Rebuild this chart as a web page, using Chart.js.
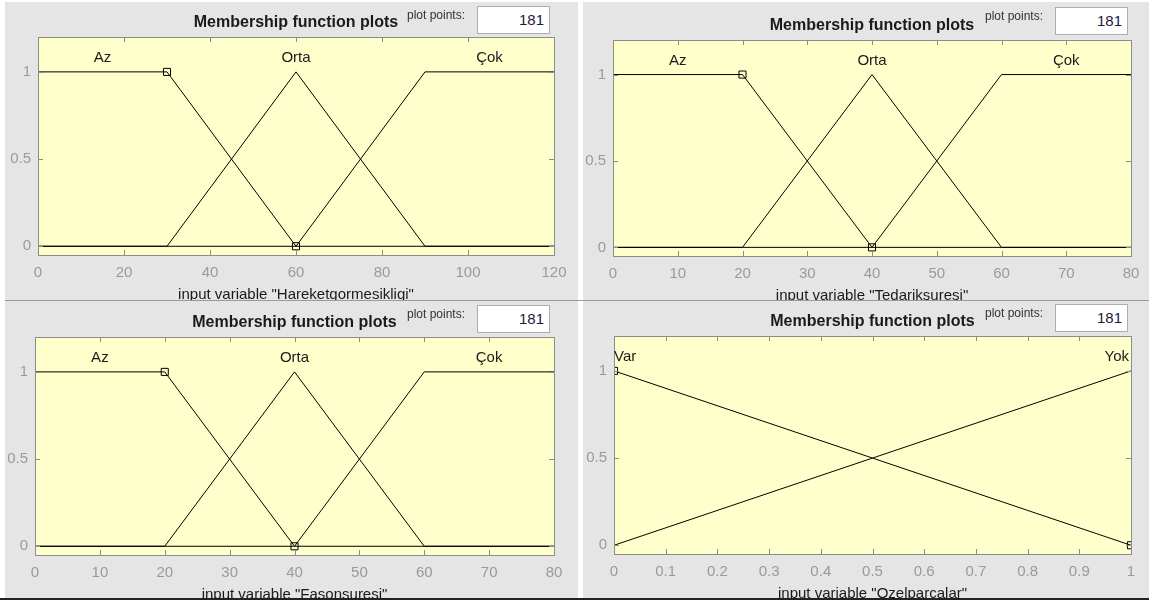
<!DOCTYPE html>
<html>
<head>
<meta charset="utf-8">
<script src="https://cdn.jsdelivr.net/npm/chart.js@4/dist/chart.umd.min.js"></script>
<style>
  body { margin: 0; background: #fff; width: 1149px; height: 600px; position: relative; overflow: hidden; font-family: "Liberation Sans", Arial, sans-serif; }
  .panel { position: absolute; background: #e5e5e5; }
  .panel canvas { position: absolute; left: 0; top: 0; }
  .pp { position: absolute; font-size: 12px; color: #333; text-align: right; width: 90px; }
  .box { position: absolute; background: #fff; border: 1px solid #adadad; box-sizing: border-box; text-align: right; font-size: 15px; color: #1c1c3c; padding-right: 5px; line-height: 26px; }
  .hline { position: absolute; height: 1px; background: #9a9a9a; }
</style>
</head>
<body>

<script>
// membership functions, breakpoints and values
var hareketX = [0, 30, 60, 90, 120];
var hareketAz = [1, 1, 0, 0, 0];
var hareketOrta = [0, 0, 1, 0, 0];
var hareketCok = [0, 0, 0, 1, 1];
var hareketTicks = [0, 20, 40, 60, 80, 100, 120];
var hareketLabelX = [15, 60, 105];
var hareketMarkX = [30, 60];
var hareketMarkY = [1, 0];

var tedarikX = [0, 20, 40, 60, 80];
var tedarikAz = [1, 1, 0, 0, 0];
var tedarikOrta = [0, 0, 1, 0, 0];
var tedarikCok = [0, 0, 0, 1, 1];
var tedarikTicks = [0, 10, 20, 30, 40, 50, 60, 70, 80];
var tedarikLabelX = [10, 40, 70];
var tedarikMarkX = [20, 40];
var tedarikMarkY = [1, 0];

var fasonX = [0, 20, 40, 60, 80];
var fasonAz = [1, 1, 0, 0, 0];
var fasonOrta = [0, 0, 1, 0, 0];
var fasonCok = [0, 0, 0, 1, 1];
var fasonTicks = [0, 10, 20, 30, 40, 50, 60, 70, 80];
var fasonLabelX = [10, 40, 70];
var fasonMarkX = [20, 40];
var fasonMarkY = [1, 0];

var ozelX = [0, 1];
var ozelVar = [1, 0];
var ozelYok = [0, 1];
var ozelTicks = [0, 0.1, 0.2, 0.3, 0.4, 0.5, 0.6, 0.7, 0.8, 0.9, 1];
var ozelLabelX = [0, 1];
var ozelMarkX = [0, 1];
var ozelMarkY = [1, 0];

var mfNames = ['Az', 'Orta', 'Çok'];
var ozelNames = ['Var', 'Yok'];
var yTicks = [0, 0.5, 1];
var plotPoints = '181';
var FONT = '"Liberation Sans", Arial, sans-serif';

function pts(xs, ys) {
  var out = [];
  for (var i = 0; i < xs.length; i++) out.push({ x: xs[i], y: ys[i] });
  return out;
}

function fmt(v) {
  return String(Math.round(v * 10) / 10);
}

// yellow background, inward ticks, box, texts
var mfPlugin = {
  id: 'mfPlot',
  beforeDatasetsDraw: function(chart) {
    var a = chart.chartArea, ctx = chart.ctx;
    ctx.save();
    ctx.fillStyle = '#ffffcc';
    ctx.fillRect(a.left, a.top, a.right - a.left, a.bottom - a.top);
    ctx.restore();
  },
  afterDraw: function(chart) {
    var a = chart.chartArea, ctx = chart.ctx, o = chart.options.plugins.mfPlot;
    var xs = chart.scales.x, ys = chart.scales.y;
    ctx.save();
    ctx.strokeStyle = '#8c8c8c';
    ctx.lineWidth = 1;
    ctx.beginPath();
    xs.ticks.forEach(function(t) {
      var px = Math.round(xs.getPixelForValue(t.value)) + 0.5;
      ctx.moveTo(px, a.top); ctx.lineTo(px, a.top + 5);
      ctx.moveTo(px, a.bottom); ctx.lineTo(px, a.bottom - 5);
    });
    ys.ticks.forEach(function(t) {
      var py = Math.round(ys.getPixelForValue(t.value)) + 0.5;
      ctx.moveTo(a.left, py); ctx.lineTo(a.left + 5, py);
      ctx.moveTo(a.right, py); ctx.lineTo(a.right - 5, py);
    });
    ctx.stroke();
    ctx.strokeRect(Math.round(a.left) + 0.5, Math.round(a.top) + 0.5,
      Math.round(a.right - a.left), Math.round(a.bottom - a.top));

    var cx = (a.left + a.right) / 2;
    ctx.fillStyle = '#1a1a1a';
    ctx.textAlign = 'center';
    ctx.textBaseline = 'middle';
    ctx.font = 'bold 16px ' + FONT;
    ctx.fillText('Membership function plots', cx, a.top - 14);

    ctx.font = '15px ' + FONT;
    ctx.fillText(o.xTitle, cx, a.bottom + 40);

    for (var i = 0; i < o.names.length; i++) {
      ctx.textAlign = o.align[i];
      var px = xs.getPixelForValue(o.labelX[i]);
      if (o.align[i] === 'left') px = a.left;
      if (o.align[i] === 'right') px = a.right - 2;
      ctx.fillText(o.names[i], px, ys.getPixelForValue(1.08));
    }
    ctx.restore();
  }
};

function makePanel(p) {
  var div = document.createElement('div');
  div.className = 'panel';
  div.style.left = p.left + 'px';
  div.style.top = p.top + 'px';
  div.style.width = p.w + 'px';
  div.style.height = p.h + 'px';
  var canvas = document.createElement('canvas');
  canvas.width = p.w;
  canvas.height = p.h;
  div.appendChild(canvas);
  document.body.appendChild(div);

  var lbl = document.createElement('div');
  lbl.className = 'pp';
  lbl.textContent = 'plot points:';
  lbl.style.left = (p.boxX - 102) + 'px';
  lbl.style.top = (p.boxY + 2) + 'px';
  document.body.appendChild(lbl);
  var box = document.createElement('div');
  box.className = 'box';
  box.textContent = plotPoints;
  box.style.left = p.boxX + 'px';
  box.style.top = p.boxY + 'px';
  box.style.width = '73px';
  box.style.height = '28px';
  document.body.appendChild(box);

  var datasets = p.series.map(function(s) {
    return {
      data: pts(p.xs, s),
      showLine: true,
      borderColor: '#000',
      borderWidth: 1,
      pointRadius: 0,
      fill: false
    };
  });
  datasets.push({
    data: pts(p.markX, p.markY),
    showLine: false,
    pointStyle: 'rect',
    pointRadius: 5,
    borderColor: '#000',
    borderWidth: 1,
    backgroundColor: 'rgba(0,0,0,0)'
  });

  new Chart(canvas, {
    type: 'scatter',
    data: { datasets: datasets },
    plugins: [mfPlugin],
    options: {
      responsive: false,
      animation: false,
      layout: { padding: { top: p.padTop, right: p.padRight, left: 0, bottom: 0 } },
      plugins: {
        legend: { display: false },
        tooltip: { enabled: false },
        mfPlot: { xTitle: p.xTitle, names: p.names, labelX: p.labelX, align: p.align }
      },
      scales: {
        x: {
          type: 'linear',
          min: p.xTicks[0],
          max: p.xTicks[p.xTicks.length - 1],
          afterBuildTicks: function(s) { s.ticks = p.xTicks.map(function(v) { return { value: v }; }); },
          afterFit: function(s) { s.height = p.xH; },
          grid: { display: false, drawTicks: false },
          border: { display: false },
          ticks: { color: '#9a9a9a', font: { family: FONT, size: 15 }, padding: 9, maxRotation: 0, autoSkip: false, callback: fmt }
        },
        y: {
          min: -0.05,
          max: 1.2,
          afterBuildTicks: function(s) { s.ticks = yTicks.map(function(v) { return { value: v }; }); },
          afterFit: function(s) { s.width = p.yW; },
          grid: { display: false, drawTicks: false },
          border: { display: false },
          ticks: { color: '#9a9a9a', font: { family: FONT, size: 15 }, padding: 7, callback: fmt }
        }
      }
    }
  });
}

makePanel({ left: 5, top: 2, w: 573, h: 298, padTop: 35, padRight: 24, yW: 33, xH: 45,
  boxX: 477, boxY: 6, xs: hareketX, series: [hareketAz, hareketOrta, hareketCok],
  xTicks: hareketTicks, names: mfNames, labelX: hareketLabelX, align: ['center', 'center', 'center'],
  markX: hareketMarkX, markY: hareketMarkY, xTitle: 'input variable "Hareketgormesikligi"' });

makePanel({ left: 583, top: 2, w: 566, h: 298, padTop: 38, padRight: 18, yW: 30, xH: 44,
  boxX: 1055, boxY: 7, xs: tedarikX, series: [tedarikAz, tedarikOrta, tedarikCok],
  xTicks: tedarikTicks, names: mfNames, labelX: tedarikLabelX, align: ['center', 'center', 'center'],
  markX: tedarikMarkX, markY: tedarikMarkY, xTitle: 'input variable "Tedariksuresi"' });

makePanel({ left: 5, top: 301, w: 573, h: 297, padTop: 36, padRight: 24, yW: 30, xH: 43,
  boxX: 477, boxY: 305, xs: fasonX, series: [fasonAz, fasonOrta, fasonCok],
  xTicks: fasonTicks, names: mfNames, labelX: fasonLabelX, align: ['center', 'center', 'center'],
  markX: fasonMarkX, markY: fasonMarkY, xTitle: 'input variable "Fasonsuresi"' });

makePanel({ left: 583, top: 301, w: 566, h: 297, padTop: 35, padRight: 18, yW: 31, xH: 44,
  boxX: 1055, boxY: 304, xs: ozelX, series: [ozelVar, ozelYok],
  xTicks: ozelTicks, names: ozelNames, labelX: ozelLabelX, align: ['left', 'right'],
  markX: ozelMarkX, markY: ozelMarkY, xTitle: 'input variable "Ozelparcalar"' });

// separators
var h1 = document.createElement('div');
h1.className = 'hline';
h1.style.cssText = 'left:5px;top:300px;width:1144px;';
document.body.appendChild(h1);
var h2 = document.createElement('div');
h2.className = 'hline';
h2.style.cssText = 'left:0;top:598px;width:1149px;height:2px;background:#222;';
document.body.appendChild(h2);
</script>
</body>
</html>
